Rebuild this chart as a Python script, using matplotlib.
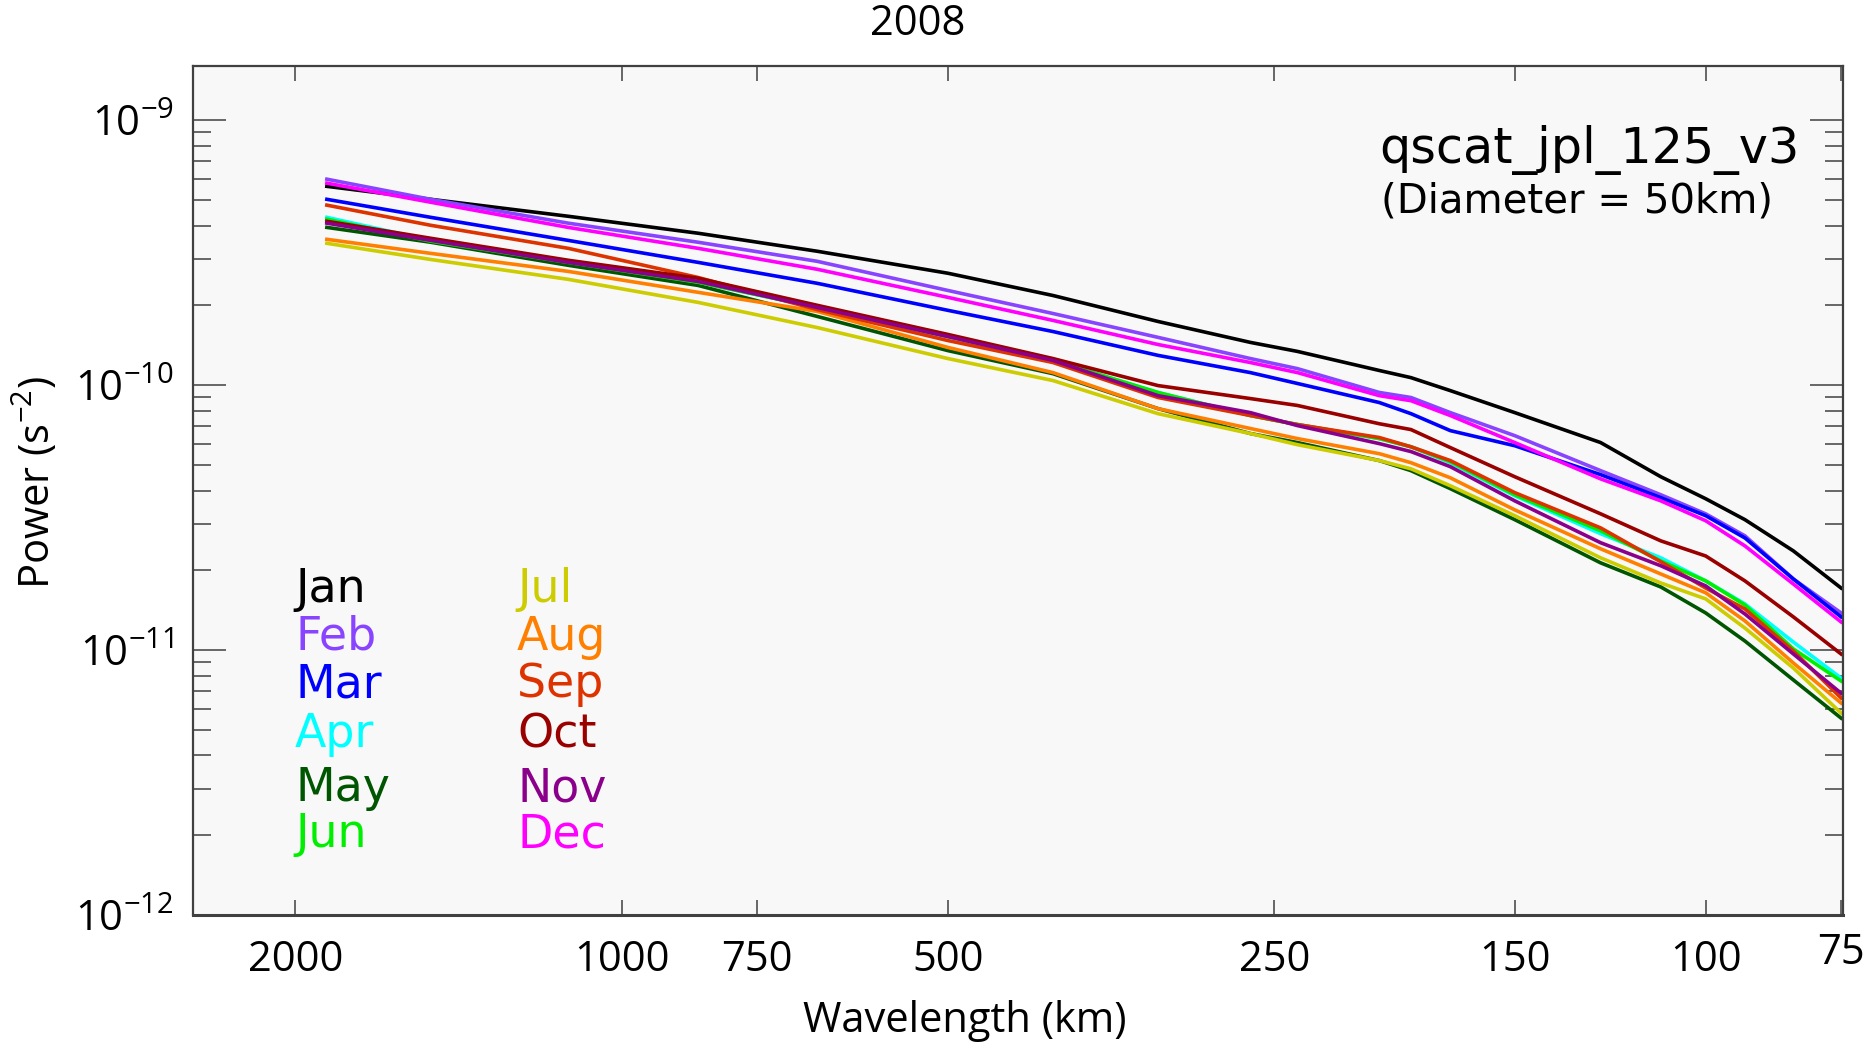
import matplotlib
matplotlib.use("Agg")
import numpy as np
import matplotlib.pyplot as plt
from matplotlib.ticker import FixedLocator, FixedFormatter, LogLocator, NullFormatter
from matplotlib.transforms import ScaledTranslation

plt.rcParams['font.family'] = ['Open Sans', 'DejaVu Sans']
plt.rcParams['mathtext.fontset'] = 'custom'
plt.rcParams['mathtext.rm'] = 'Open Sans'
plt.rcParams['mathtext.it'] = 'Open Sans:italic'
plt.rcParams['mathtext.bf'] = 'Open Sans:bold'

# ---------------- data (log10 of power, s^-2) ----------------
wavelength_km = [1870, 1500, 1120, 850, 660, 500, 400, 320, 263, 238,
                 200, 187, 172, 150, 125, 110, 100, 92, 83, 75]

jan = [-9.250, -9.299, -9.363, -9.427, -9.495, -9.578, -9.662, -9.760, -9.839, -9.873,
       -9.945, -9.972, -10.021, -10.104, -10.217, -10.346, -10.429, -10.508, -10.626, -10.766]
feb = [-9.223, -9.299, -9.389, -9.461, -9.533, -9.643, -9.730, -9.820, -9.900, -9.938,
       -10.028, -10.047, -10.104, -10.191, -10.323, -10.414, -10.486, -10.569, -10.732, -10.860]
mar = [-9.299, -9.367, -9.454, -9.537, -9.616, -9.718, -9.798, -9.888, -9.953, -9.994,
       -10.066, -10.108, -10.172, -10.229, -10.338, -10.425, -10.493, -10.577, -10.732, -10.875]
apr = [-9.367, -9.454, -9.537, -9.612, -9.707, -9.817, -9.907, -10.028, -10.115, -10.149,
       -10.202, -10.233, -10.293, -10.418, -10.561, -10.652, -10.739, -10.826, -10.970, -11.106]
may = [-9.405, -9.461, -9.548, -9.624, -9.741, -9.870, -9.957, -10.089, -10.183, -10.217,
       -10.285, -10.323, -10.391, -10.508, -10.671, -10.762, -10.860, -10.966, -11.113, -11.257]
jun = [-9.374, -9.457, -9.537, -9.612, -9.707, -9.817, -9.907, -10.028, -10.115, -10.149,
       -10.202, -10.233, -10.289, -10.414, -10.550, -10.664, -10.739, -10.830, -10.996, -11.117]
jul = [-9.465, -9.526, -9.601, -9.688, -9.783, -9.900, -9.983, -10.108, -10.183, -10.225,
       -10.285, -10.316, -10.380, -10.493, -10.652, -10.747, -10.807, -10.917, -11.068, -11.238]
aug = [-9.450, -9.503, -9.571, -9.650, -9.722, -9.858, -9.953, -10.089, -10.164, -10.202,
       -10.259, -10.293, -10.350, -10.471, -10.618, -10.713, -10.784, -10.890, -11.049, -11.200]
sep = [-9.321, -9.397, -9.484, -9.594, -9.715, -9.832, -9.915, -10.047, -10.115, -10.149,
       -10.198, -10.233, -10.285, -10.406, -10.539, -10.667, -10.766, -10.845, -11.004, -11.181]
oct_ = [-9.382, -9.446, -9.529, -9.597, -9.699, -9.809, -9.900, -10.002, -10.051, -10.077,
        -10.146, -10.168, -10.236, -10.346, -10.486, -10.588, -10.645, -10.739, -10.875, -11.015]
nov = [-9.389, -9.454, -9.537, -9.609, -9.707, -9.817, -9.907, -10.040, -10.104, -10.153,
       -10.221, -10.251, -10.308, -10.437, -10.595, -10.682, -10.758, -10.864, -11.015, -11.163]
dec = [-9.238, -9.310, -9.405, -9.484, -9.563, -9.669, -9.756, -9.847, -9.915, -9.953,
       -10.040, -10.059, -10.115, -10.217, -10.354, -10.437, -10.512, -10.607, -10.751, -10.894]

months = ['Jan', 'Feb', 'Mar', 'Apr', 'May', 'Jun',
          'Jul', 'Aug', 'Sep', 'Oct', 'Nov', 'Dec']
series = [jan, feb, mar, apr, may, jun, jul, aug, sep, oct_, nov, dec]
colors = ['#000000', '#8844ff', '#0000ff', '#00ffff', '#005500', '#00ee00',
          '#cccc00', '#ff8000', '#dd3300', '#990000', '#8b008b', '#ff00ff']

xtick_values = [2000, 1000, 750, 500, 250, 150, 100, 75]
xtick_labels = ['2000', '1000', '750', '500', '250', '150', '100', '75']
ytick_values = [1e-9, 1e-10, 1e-11, 1e-12]
ytick_labels = [r'$\mathregular{10^{-9}}$', r'$\mathregular{10^{-10}}$',
                r'$\mathregular{10^{-11}}$', r'$\mathregular{10^{-12}}$']

# ---------------- figure ----------------
W, H = 1868, 1046
fig = plt.figure(figsize=(W / 100, H / 100), dpi=100)
fig.patch.set_facecolor('white')
ax = fig.add_axes([193 / W, 1 - 915 / H, (1843 - 193) / W, (915 - 65.5) / H])
ax.set_facecolor('#f8f8f8')

for vals, col in zip(series, colors):
    ax.plot(wavelength_km, 10 ** np.array(vals), color=col, lw=2.6,
            solid_joinstyle='round')

ax.set_xscale('log')
ax.set_yscale('log')
ax.set_xlim(2485, 74.7)
ax.set_ylim(1e-12, 1.607e-9)

ax.xaxis.set_major_locator(FixedLocator(xtick_values))
ax.xaxis.set_major_formatter(FixedFormatter(xtick_labels))
ax.xaxis.set_minor_locator(FixedLocator([]))
ax.yaxis.set_major_locator(FixedLocator(ytick_values))
ax.yaxis.set_major_formatter(FixedFormatter(ytick_labels))
ax.yaxis.set_minor_locator(LogLocator(base=10, subs=np.arange(2, 10), numticks=20))
ax.yaxis.set_minor_formatter(NullFormatter())

ax.tick_params(axis='x', which='major', direction='in', top=True, bottom=True,
               length=11, width=1.1, color='#404040', labelsize=30, pad=17)
ax.tick_params(axis='y', which='major', direction='in', left=True, right=True,
               length=24, width=1.1, color='#404040', labelsize=30, pad=14)
ax.tick_params(axis='y', which='minor', direction='in', left=True, right=True,
               length=13, width=1.1, color='#404040')

for sp in ax.spines.values():
    sp.set_color('#404040')
    sp.set_linewidth(1.6)
ax.spines['bottom'].set_linewidth(2.2)

# the "75" label sits a little higher in the original
last_tick = ax.xaxis.get_major_ticks()[-1]
last_tick.label1.set_transform(last_tick.label1.get_transform() +
                               ScaledTranslation(0, 7 / 100, fig.dpi_scale_trans))

# titles / labels
fig.text(918 / W, 1 - 24 / H, '2008', ha='center', va='center', fontsize=30)
fig.text(965 / W, 1 - 1021 / H, 'Wavelength (km)', ha='center', va='center', fontsize=30)
fig.text(36 / W, 1 - 482 / H, r'Power (s$^{\mathregular{-2}}$)', ha='center', va='center',
         rotation=90, fontsize=30)

# annotation in plot
fig.text(1379 / W, 1 - 163 / H, 'qscat_jpl_125_v3', ha='left', va='baseline',
         fontsize=35.5, family='DejaVu Sans', color='black')
fig.text(1381 / W, 1 - 212 / H, '(Diameter = 50km)', ha='left', va='baseline',
         fontsize=29, family='DejaVu Sans', color='black')

# month labels
col_x = [295, 517]
row_base = [602, 650, 697, 747, 801, 847]
for i, (m, col) in enumerate(zip(months, colors)):
    cx = col_x[i // 6]
    by = row_base[i % 6]
    fig.text(cx / W, 1 - by / H, m, ha='left', va='baseline', fontsize=33,
             family='DejaVu Sans', color=col)

fig.savefig('out.png', dpi=100)
